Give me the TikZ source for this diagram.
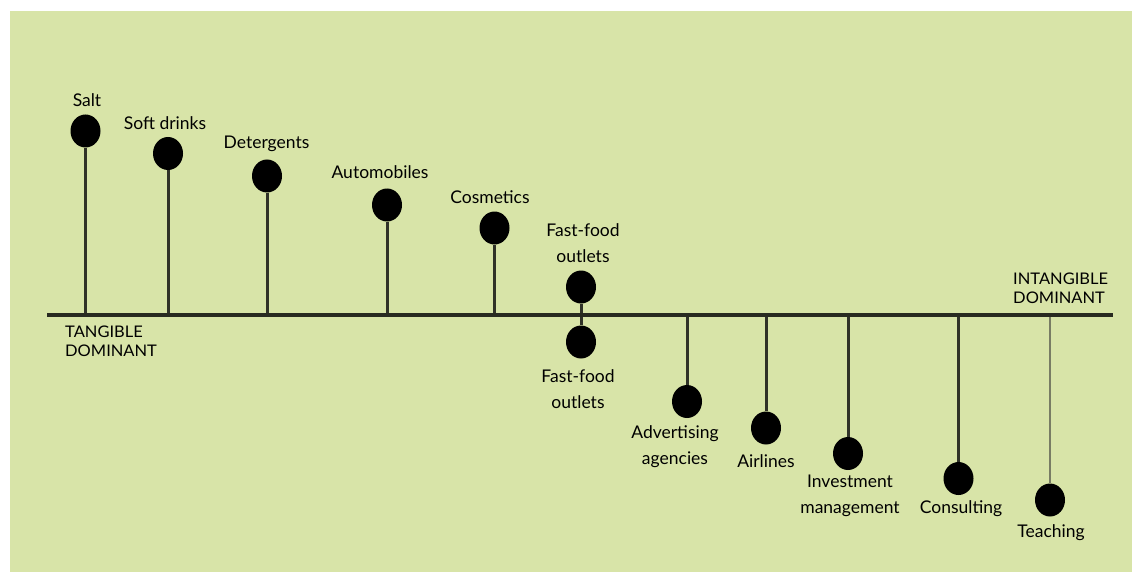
\documentclass[tikz,border=0pt]{standalone}
\usepackage{fontspec}
\setmainfont{Lato}
\newfontfamily\capsfont[FakeStretch=1.03]{Lato}
\usetikzlibrary{shapes.geometric}
\definecolor{panel}{RGB}{216,228,168}
\definecolor{axiscol}{RGB}{40,42,32}
\definecolor{stemcol}{RGB}{48,50,40}
\definecolor{paleStem}{RGB}{120,124,100}
\begin{document}
\begin{tikzpicture}[x=1pt,y=-1pt,
  pin dot/.style={ellipse,fill=black,inner sep=0pt,minimum width=30pt,minimum height=33pt},
  lbl/.style={inner sep=0pt,align=center,font=\fontsize{17.5}{26}\selectfont,text=black},
  endlbl/.style={inner sep=0pt,align=left,anchor=north west,font=\capsfont\fontsize{16}{19}\selectfont,text=black},
  stem/.style={draw=stemcol,line width=3pt}]
% canvas and panel
\useasboundingbox (0,0) rectangle (1137,572);
\fill[white] (0,0) rectangle (1137,572);
\fill[panel] (10,11) rectangle (1132,572);

% main axis
\coordinate (axL) at (47,315);
\coordinate (axR) at (1113,315);

% dots above the axis (tangible side)
\node[pin dot] (salt) at (85.5,131) {};
\node[pin dot] (soft) at (168,153.5) {};
\node[pin dot] (deter) at (267,176) {};
\node[pin dot] (auto) at (387,205) {};
\node[pin dot] (cosm) at (494.5,228) {};
\node[pin dot] (ffup) at (581,287) {};
% dots below the axis (intangible side)
\node[pin dot] (fflo) at (581,342) {};
\node[pin dot] (adv) at (687,401.5) {};
\node[pin dot] (air) at (766,428) {};
\node[pin dot] (inv) at (848,453.5) {};
\node[pin dot] (cons) at (958.5,478.5) {};
\node[pin dot] (teach) at (1050,500) {};

% stems
\draw[stem] (salt.south) -- (salt.south |- axL);
\draw[stem] (soft.south) -- (soft.south |- axL);
\draw[stem] (deter.south) -- (deter.south |- axL);
\draw[stem] (auto.south) -- (auto.south |- axL);
\draw[stem] (cosm.south) -- (cosm.south |- axL);
\draw[stem] (ffup.south) -- (fflo.north);
\draw[stem] (adv.north) -- (adv.north |- axL);
\draw[stem] (air.north) -- (air.north |- axL);
\draw[stem] (inv.north) -- (inv.north |- axL);
\draw[stem] (cons.north) -- (cons.north |- axL);
\draw[stem,draw=paleStem,line width=2.5pt] (teach.north) -- (teach.north |- axL);

\draw[draw=axiscol,line width=4.5pt] (axL) -- (axR);

% labels
\node[lbl] (saltL) at (87,100) {Salt};
\node[lbl] (softL) at (165,123) {Soft drinks};
\node[lbl] (deterL) at (266.5,144) {Detergents};
\node[lbl] (autoL) at (380,172) {Automobiles};
\node[lbl] (cosmL) at (490,197) {Cosmetics};
\node[lbl] (ffupL) at (583,243) {Fast-food\\outlets};
\node[lbl] (ffloL) at (578,389) {Fast-food\\outlets};
\node[lbl] (advL) at (675,447) {Advertising\\agencies};
\node[lbl] (airL) at (766,461) {Airlines};
\node[lbl] (invL) at (850,496) {Investment\\management};
\node[lbl] (consL) at (961,509) {Consulting};
\node[lbl] (teachL) at (1051,533) {Teaching};

\node[endlbl] (tang) at (65,326) {TANGIBLE\\DOMINANT};
\node[endlbl] (intang) at (1013,273) {INTANGIBLE\\DOMINANT};
\end{tikzpicture}
\end{document}
